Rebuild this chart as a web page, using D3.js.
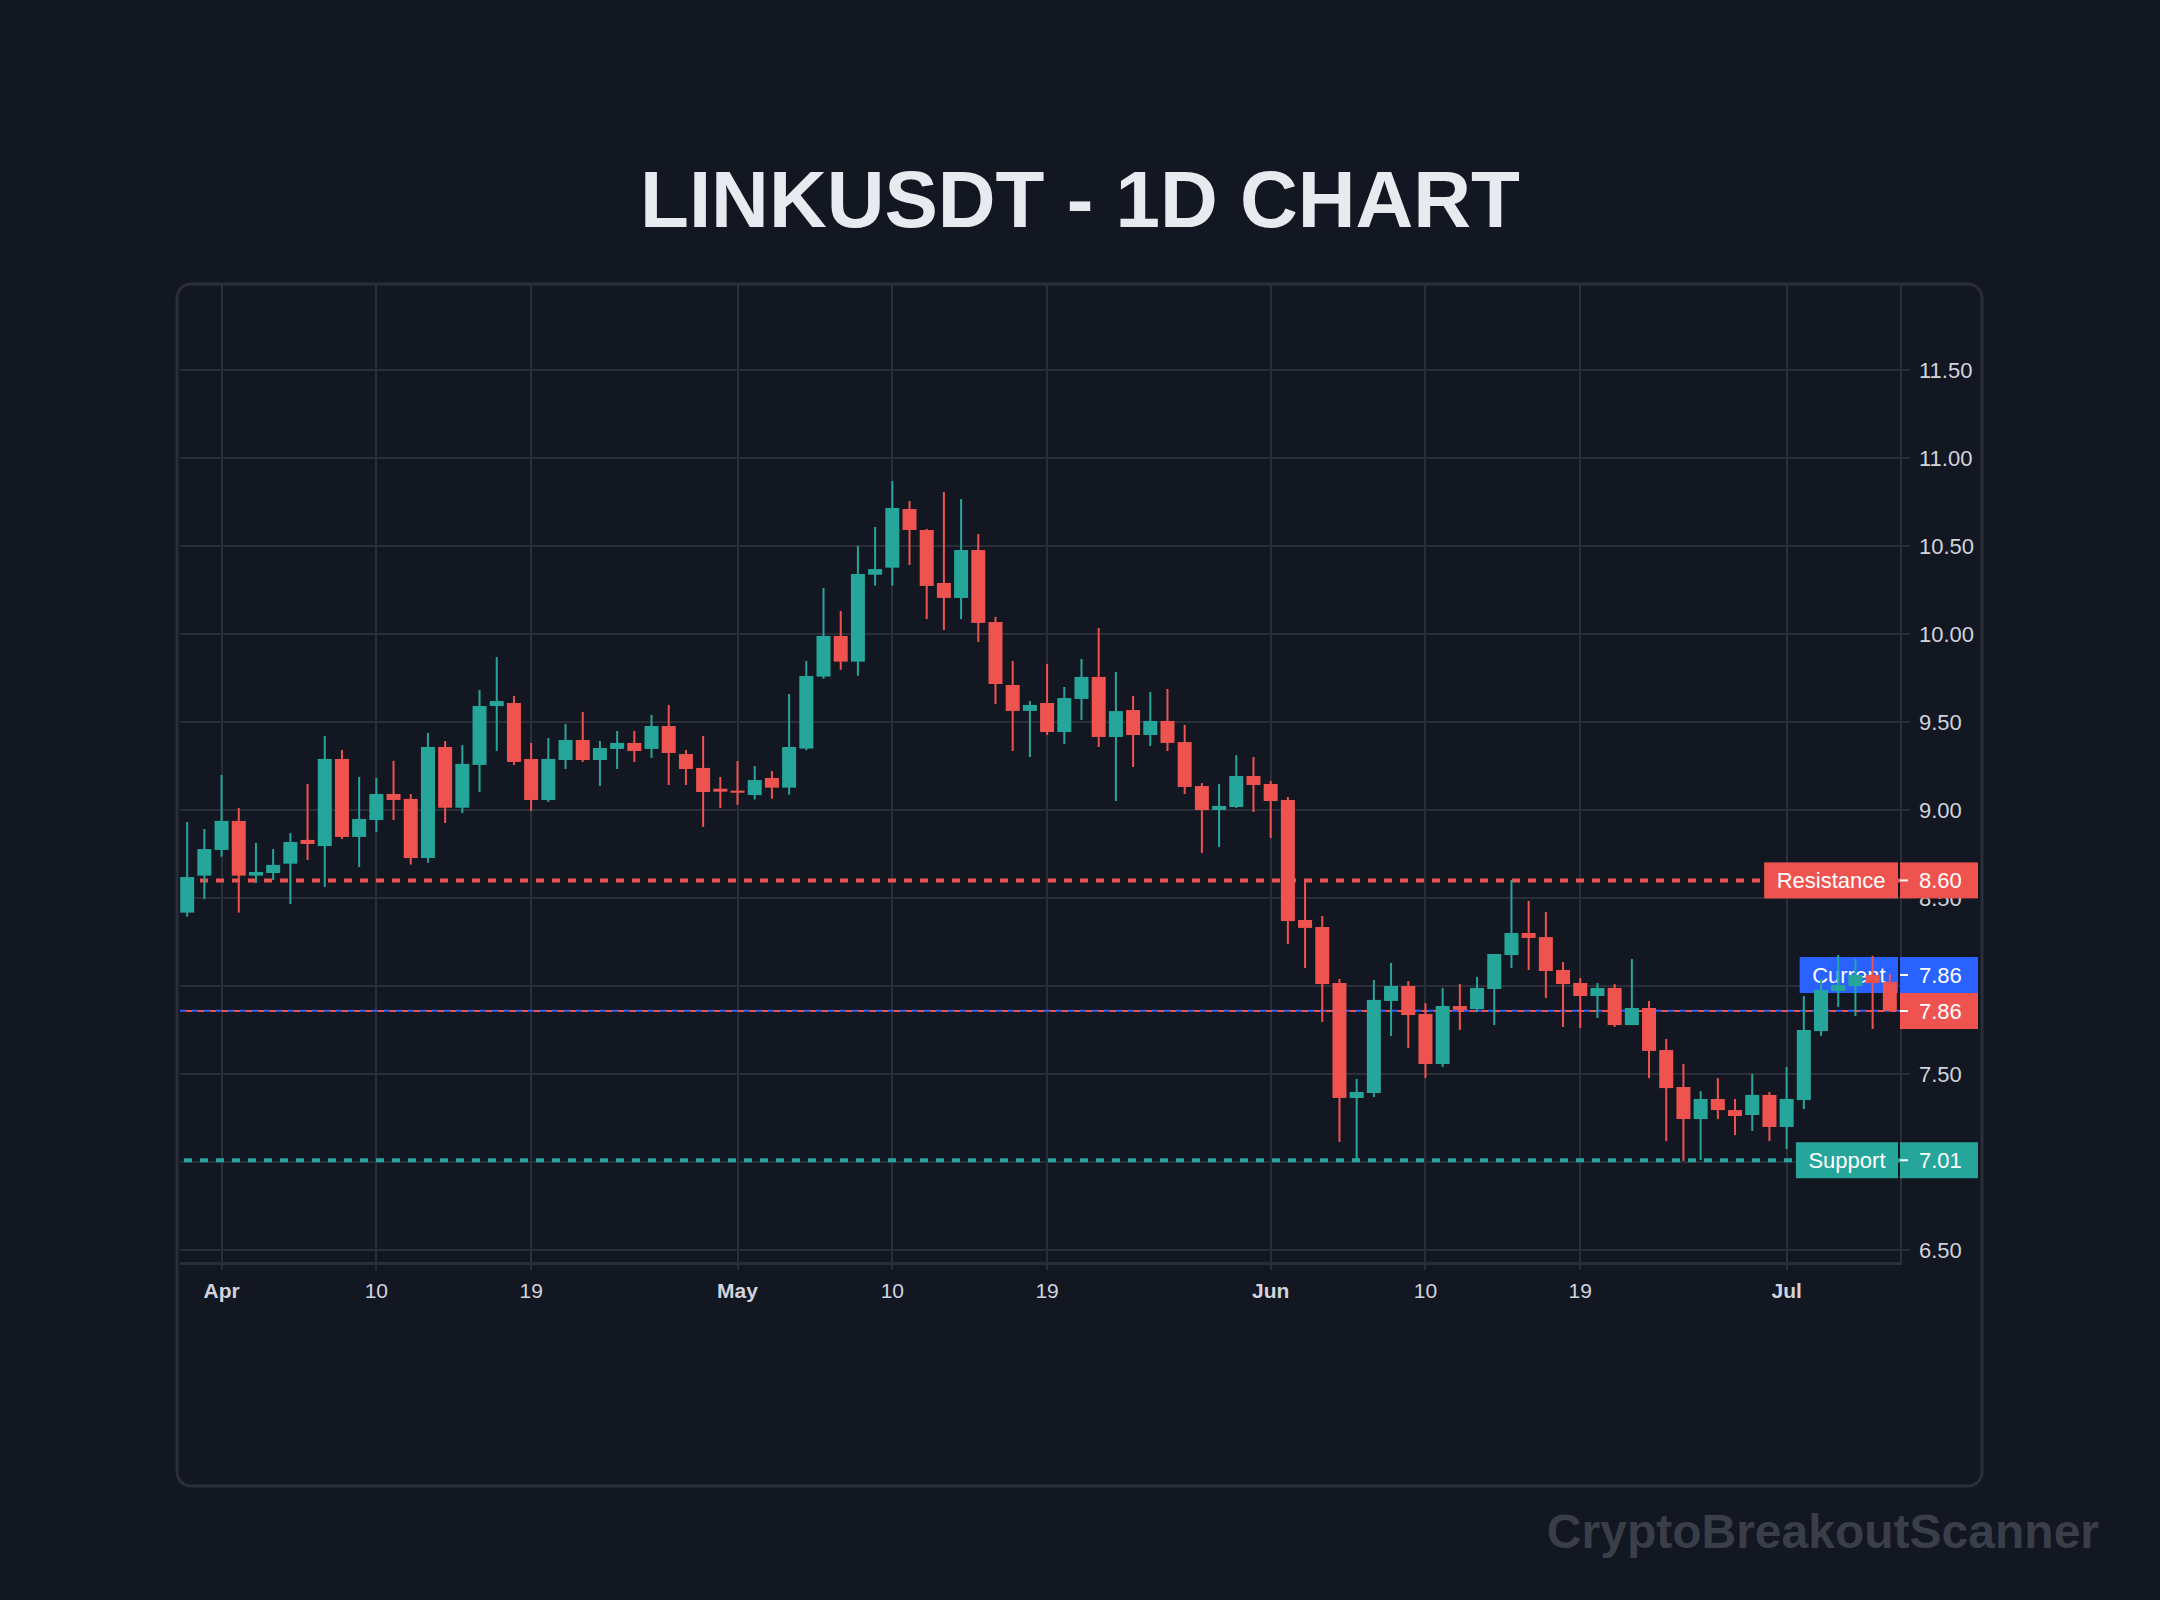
<!DOCTYPE html>
<html>
<head>
<meta charset="utf-8">
<title>LINKUSDT - 1D Chart</title>
<script src="https://d3js.org/d3.v7.min.js"></script>
<style>
  body { margin: 0; background: #131722; }
  svg { display: block; font-family: "Liberation Sans", Arial, sans-serif; }
</style>
</head>
<body>
<svg id="chart"></svg>
<script>

// daily candles, the first one is 30 March
let firstDay = new Date(2025, 2, 30);

let opens = [8.417, 8.627, 8.773, 8.938, 8.627, 8.642, 8.695, 8.830, 8.795, 9.290,
  8.847, 8.943, 9.091, 9.063, 8.727, 9.358, 9.013, 9.256, 9.591, 9.608,
  9.290, 9.057, 9.284, 9.398, 9.284, 9.347, 9.381, 9.347, 9.477, 9.318,
  9.239, 9.121, 9.110, 9.085, 9.182, 9.127, 9.349, 9.758, 9.989, 9.843,
  10.337, 10.377, 10.710, 10.591, 10.290, 10.205, 10.477, 10.068, 9.710, 9.563,
  9.608, 9.443, 9.631, 9.756, 9.415, 9.568, 9.426, 9.506, 9.386, 9.136,
  9.000, 9.017, 9.193, 9.148, 9.057, 8.375, 8.335, 8.017, 7.364, 7.392,
  7.915, 8.000, 7.841, 7.557, 7.886, 7.869, 7.983, 8.176, 8.301, 8.278,
  8.091, 8.017, 7.943, 7.989, 7.778, 7.875, 7.636, 7.426, 7.244, 7.358,
  7.295, 7.267, 7.381, 7.199, 7.352, 7.744, 7.972, 8.000, 8.063, 8.023];

let highs = [8.932, 8.892, 9.199, 9.011, 8.813, 8.778, 8.869, 9.148, 9.421, 9.341,
  9.188, 9.182, 9.279, 9.091, 9.438, 9.392, 9.369, 9.682, 9.869, 9.648,
  9.381, 9.409, 9.489, 9.557, 9.392, 9.449, 9.449, 9.540, 9.597, 9.341,
  9.421, 9.188, 9.278, 9.250, 9.222, 9.659, 9.847, 10.261, 10.131, 10.500,
  10.608, 10.869, 10.756, 10.597, 10.807, 10.767, 10.568, 10.097, 9.847, 9.619,
  9.830, 9.699, 9.858, 10.034, 9.784, 9.648, 9.670, 9.688, 9.483, 9.153,
  9.148, 9.312, 9.301, 9.165, 9.074, 8.597, 8.398, 8.040, 7.472, 8.034,
  8.131, 8.028, 7.903, 7.989, 8.011, 8.051, 8.182, 8.602, 8.483, 8.420,
  8.136, 8.045, 8.017, 8.011, 8.153, 7.915, 7.699, 7.557, 7.403, 7.477,
  7.358, 7.500, 7.398, 7.540, 7.943, 8.040, 8.176, 8.153, 8.171, 8.068];

let lows = [8.394, 8.494, 8.735, 8.417, 8.585, 8.602, 8.466, 8.716, 8.563, 8.835,
  8.676, 8.875, 8.943, 8.690, 8.700, 8.926, 8.983, 9.102, 9.335, 9.256,
  8.994, 9.046, 9.233, 9.273, 9.136, 9.233, 9.273, 9.296, 9.142, 9.142,
  8.904, 9.011, 9.030, 9.060, 9.064, 9.087, 9.340, 9.746, 9.797, 9.763,
  10.275, 10.275, 10.392, 10.085, 10.023, 10.085, 9.955, 9.602, 9.335, 9.301,
  9.426, 9.375, 9.511, 9.358, 9.051, 9.244, 9.364, 9.335, 9.091, 8.756,
  8.790, 9.011, 8.989, 8.841, 8.239, 8.102, 7.796, 7.114, 7.000, 7.369,
  7.716, 7.648, 7.477, 7.540, 7.750, 7.852, 7.778, 8.102, 8.091, 7.932,
  7.767, 7.761, 7.818, 7.767, 7.778, 7.477, 7.119, 7.006, 7.011, 7.244,
  7.153, 7.176, 7.119, 7.074, 7.301, 7.716, 7.881, 7.830, 7.756, 7.858];

let closes = [8.619, 8.778, 8.938, 8.627, 8.648, 8.688, 8.818, 8.807, 9.290, 8.847,
  8.949, 9.091, 9.057, 8.727, 9.358, 9.013, 9.262, 9.591, 9.619, 9.273,
  9.057, 9.290, 9.398, 9.284, 9.352, 9.381, 9.335, 9.477, 9.324, 9.233,
  9.102, 9.104, 9.098, 9.170, 9.127, 9.358, 9.761, 9.989, 9.843, 10.341,
  10.369, 10.716, 10.591, 10.273, 10.205, 10.477, 10.063, 9.716, 9.563, 9.597,
  9.443, 9.636, 9.756, 9.415, 9.562, 9.426, 9.506, 9.381, 9.131, 9.000,
  9.023, 9.193, 9.142, 9.051, 8.369, 8.330, 8.011, 7.364, 7.398, 7.921,
  8.000, 7.835, 7.557, 7.886, 7.864, 7.989, 8.182, 8.301, 8.273, 8.085,
  8.011, 7.943, 7.989, 7.778, 7.875, 7.631, 7.420, 7.244, 7.358, 7.295,
  7.261, 7.381, 7.199, 7.358, 7.750, 7.977, 8.006, 8.063, 8.017, 7.858];

// axis ticks
let priceTicks = [6.5, 7, 7.5, 8, 8.5, 9, 9.5, 10, 10.5, 11, 11.5];
let tickDates = ['2025-04-01', '2025-04-10', '2025-04-19', '2025-05-01', '2025-05-10',
  '2025-05-19', '2025-06-01', '2025-06-10', '2025-06-19', '2025-07-01'];
let tickLabels = ['Apr', '10', '19', 'May', '10', '19', 'Jun', '10', '19', 'Jul'];
let tickBold = [true, false, false, true, false, false, true, false, false, true];

// horizontal levels
let levelNames = ['Resistance', 'Current', 'Support'];
let levelPrices = [8.60, 7.86, 7.01];
let levelColors = ['#ef5350', '#2962ff', '#26a69a'];

let up = '#26a69a';
let down = '#ef5350';
let gridColor = '#2a2e39';
let textColor = '#d1d4dc';
let labelSize = 22;

let config = { svg: {}, plot: {}, panel: {} };
config.svg.width = 2160;
config.svg.height = 1600;

config.panel.x = 177;
config.panel.y = 284;
config.panel.width = 1805;
config.panel.height = 1202;

config.plot.left = 180;
config.plot.right = 1901;
config.plot.top = 285;
config.plot.bottom = 1263;

let svg = d3.select('#chart')
  .attr('width', config.svg.width)
  .attr('height', config.svg.height);

svg.append('rect')
  .attr('width', config.svg.width)
  .attr('height', config.svg.height)
  .attr('fill', '#131722');

// build rows
let data = opens.map(function(o, i) {
  return {
    date: d3.timeDay.offset(firstDay, i),
    open: o, high: highs[i], low: lows[i], close: closes[i]
  };
});
let last = data[data.length - 1];

let x = d3.scaleTime()
  .domain([d3.timeHour.offset(data[0].date, -10), d3.timeMinute.offset(last.date, 936)])
  .range([config.plot.left, config.plot.right]);

let y = d3.scaleLinear()
  .domain([6.5, 11.5])
  .range([1250, 370]);

let parseDay = d3.timeParse('%Y-%m-%d');

// title
svg.append('text')
  .attr('x', config.svg.width / 2)
  .attr('y', 227)
  .attr('text-anchor', 'middle')
  .attr('font-size', 80)
  .attr('font-weight', 'bold')
  .attr('fill', '#e8eaef')
  .text('LINKUSDT - 1D CHART');

// panel frame
svg.append('rect')
  .attr('x', config.panel.x)
  .attr('y', config.panel.y)
  .attr('width', config.panel.width)
  .attr('height', config.panel.height)
  .attr('rx', 14)
  .attr('fill', '#131722')
  .attr('stroke', '#2a2e39')
  .attr('stroke-width', 3);

let grid = svg.append('g').attr('id', 'grid').attr('shape-rendering', 'crispEdges');

grid.selectAll('line.h')
  .data(priceTicks)
  .enter().append('line')
  .attr('class', 'h')
  .attr('x1', config.plot.left)
  .attr('x2', config.plot.right + 9)
  .attr('y1', d => Math.round(y(d)))
  .attr('y2', d => Math.round(y(d)))
  .attr('stroke', gridColor)
  .attr('stroke-width', 2);

grid.selectAll('line.v')
  .data(tickDates)
  .enter().append('line')
  .attr('class', 'v')
  .attr('x1', d => Math.round(x(parseDay(d))))
  .attr('x2', d => Math.round(x(parseDay(d))))
  .attr('y1', config.plot.top)
  .attr('y2', config.plot.bottom + 7)
  .attr('stroke', gridColor)
  .attr('stroke-width', 2);

// axis borders
grid.append('line')
  .attr('x1', config.plot.right).attr('x2', config.plot.right)
  .attr('y1', config.plot.top).attr('y2', config.plot.bottom)
  .attr('stroke', gridColor).attr('stroke-width', 2);
grid.append('line')
  .attr('x1', config.plot.left).attr('x2', config.plot.right + 1)
  .attr('y1', config.plot.bottom).attr('y2', config.plot.bottom)
  .attr('stroke', gridColor).attr('stroke-width', 3);

// time labels
svg.append('g').selectAll('text')
  .data(tickDates)
  .enter().append('text')
  .attr('x', d => x(parseDay(d)))
  .attr('y', 1298)
  .attr('text-anchor', 'middle')
  .attr('font-size', 21)
  .attr('font-weight', (d, i) => tickBold[i] ? 'bold' : 'normal')
  .attr('fill', textColor)
  .text((d, i) => tickLabels[i]);

// price labels
svg.append('g').selectAll('text')
  .data(priceTicks)
  .enter().append('text')
  .attr('x', 1919)
  .attr('y', d => y(d))
  .attr('dy', '0.36em')
  .attr('font-size', labelSize)
  .attr('fill', textColor)
  .text(d => d.toFixed(2));

let plot = svg.append('g').attr('id', 'plot');
plot.append('clipPath').attr('id', 'clip')
  .append('rect')
  .attr('x', config.plot.left)
  .attr('y', config.plot.top)
  .attr('width', config.plot.right - config.plot.left)
  .attr('height', config.plot.bottom - config.plot.top);

let lines = plot.append('g').attr('clip-path', 'url(#clip)');

// resistance and support: thick dashes
[0, 2].forEach(function(k) {
  lines.append('line')
    .attr('x1', config.plot.left).attr('x2', config.plot.right)
    .attr('y1', y(levelPrices[k])).attr('y2', y(levelPrices[k]))
    .attr('stroke', levelColors[k])
    .attr('stroke-width', 4)
    .attr('stroke-dasharray', '8 8')
    .attr('stroke-dashoffset', -4);
});

// current price and last close, thin
lines.append('line')
  .attr('x1', config.plot.left).attr('x2', config.plot.right)
  .attr('y1', y(levelPrices[1])).attr('y2', y(levelPrices[1]))
  .attr('stroke', levelColors[1])
  .attr('stroke-width', 2)
  .attr('stroke-dasharray', '6 6');
lines.append('line')
  .attr('x1', config.plot.left).attr('x2', config.plot.right)
  .attr('y1', y(last.close)).attr('y2', y(last.close))
  .attr('stroke', last.close < last.open ? down : up)
  .attr('stroke-width', 2)
  .attr('stroke-dasharray', '6 6')
  .attr('stroke-dashoffset', 6);

// label placement: current label moves up when it hits the last price label
let boxH = 36;
let lastY = y(last.close);
let labelY = levelPrices.map(function(p) {
  let cy = y(p);
  if (Math.abs(cy - lastY) < boxH) cy = lastY - boxH;
  return cy;
});

let labels = plot.append('g').attr('id', 'labels');

levelNames.forEach(function(name, k) {
  let g = labels.append('g');
  let t = g.append('text')
    .attr('font-size', labelSize)
    .attr('fill', '#ffffff')
    .attr('text-anchor', 'middle')
    .attr('dy', '0.36em')
    .text(name);
  let w = t.node().getComputedTextLength() + 25;
  g.insert('rect', 'text')
    .attr('x', 1898 - w)
    .attr('y', labelY[k] - boxH / 2)
    .attr('width', w)
    .attr('height', boxH)
    .attr('fill', levelColors[k]);
  t.attr('x', 1898 - w / 2).attr('y', labelY[k]);
});

// candles
let candles = plot.append('g').attr('clip-path', 'url(#clip)');
let bodyW = 14;

candles.selectAll('line.wick')
  .data(data)
  .enter().append('line')
  .attr('class', 'wick')
  .attr('x1', d => x(d.date))
  .attr('x2', d => x(d.date))
  .attr('y1', d => y(d.high))
  .attr('y2', d => y(d.low))
  .attr('stroke', d => d.close >= d.open ? up : down)
  .attr('stroke-width', 2);

candles.selectAll('rect.body')
  .data(data)
  .enter().append('rect')
  .attr('class', 'body')
  .attr('x', d => x(d.date) - bodyW / 2)
  .attr('y', d => y(Math.max(d.open, d.close)))
  .attr('width', bodyW)
  .attr('height', d => Math.max(2, Math.abs(y(d.open) - y(d.close))))
  .attr('fill', d => d.close >= d.open ? up : down);

// price axis badges
let badgePrices = [levelPrices[0], levelPrices[1], last.close, levelPrices[2]];
let badgeY = [labelY[0], labelY[1], lastY, labelY[2]];
let badgeColors = [levelColors[0], levelColors[1], last.close < last.open ? down : up, levelColors[2]];

let badges = svg.append('g').attr('id', 'badges');
badgePrices.forEach(function(p, k) {
  let g = badges.append('g');
  g.append('rect')
    .attr('x', 1900)
    .attr('y', badgeY[k] - boxH / 2)
    .attr('width', 78)
    .attr('height', boxH)
    .attr('fill', badgeColors[k]);
  g.append('line')
    .attr('x1', 1900).attr('x2', 1908)
    .attr('y1', badgeY[k]).attr('y2', badgeY[k])
    .attr('stroke', '#ffffff')
    .attr('stroke-width', 2);
  g.append('text')
    .attr('x', 1919)
    .attr('y', badgeY[k])
    .attr('dy', '0.36em')
    .attr('font-size', labelSize)
    .attr('fill', '#ffffff')
    .text(p.toFixed(2));
});

// watermark
svg.append('text')
  .attr('x', 2099)
  .attr('y', 1548)
  .attr('text-anchor', 'end')
  .attr('font-size', 48)
  .attr('font-weight', 'bold')
  .attr('fill', '#3a3e48')
  .text('CryptoBreakoutScanner');

</script>
</body>
</html>
